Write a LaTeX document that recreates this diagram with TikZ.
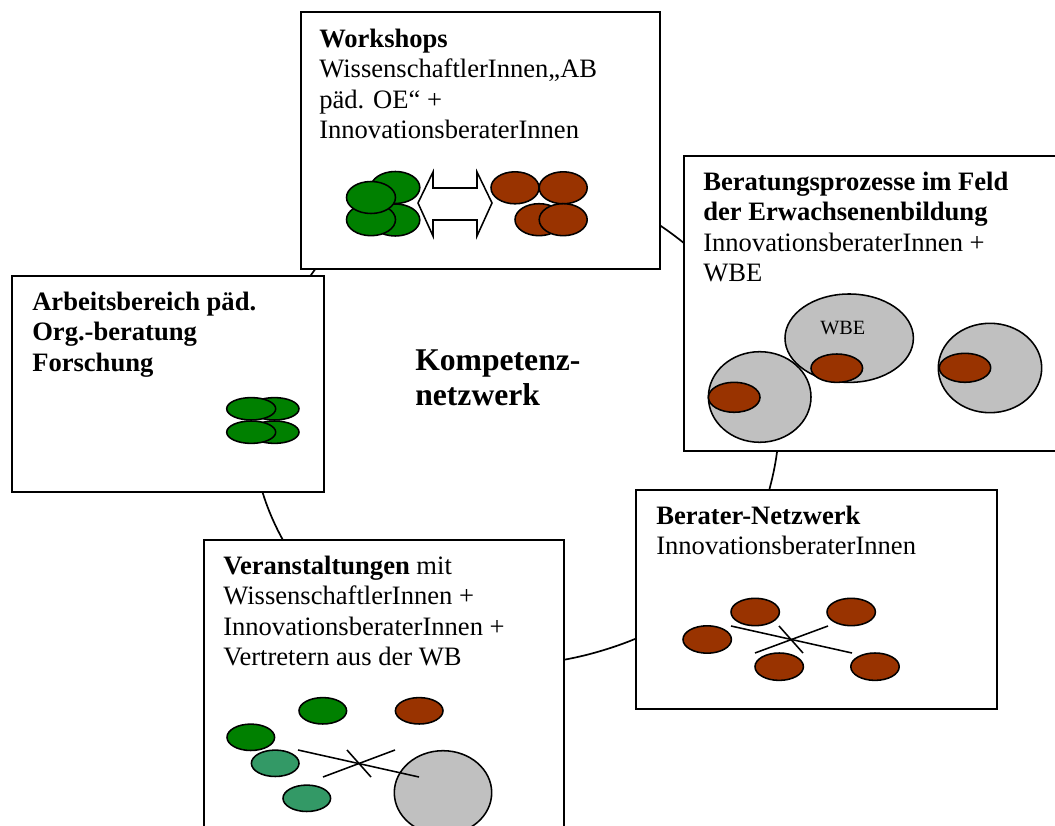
\documentclass[tikz,border=0pt]{standalone}
\usepackage{fontspec}
\setmainfont{Liberation Serif}
\usetikzlibrary{positioning,calc}
\definecolor{gruen}{RGB}{0,128,0}
\definecolor{hellgruen}{RGB}{51,153,102}
\definecolor{braun}{RGB}{153,51,0}
\definecolor{grau}{RGB}{192,192,192}
\tikzset{
	box/.style={draw, line width=1.3pt, fill=white, inner sep=0pt, anchor=north west},
	txt/.style={anchor=north west, inner sep=0pt, align=left, font=\fontsize{18.9}{21.7}\selectfont},
	blob/.style={draw, line width=1.1pt},
	netz/.style={line width=1.1pt},
}

\begin{document}
\begin{tikzpicture}[x=0.025cm, y=-0.025cm]
	\useasboundingbox (0,0) rectangle (1055,826);
	\clip (0,0) rectangle (1055,826);

	\coordinate (ka) at (313.5,271.5);
	\coordinate (kb) at (671.5,233.5);
	\coordinate (kc) at (774,470);
	\coordinate (kd) at (599,651.5);
	\coordinate (ke) at (271,515.5);
	\draw[line width=1.2pt] (ka) .. controls (394.5,158.5) and (559.5,150.5) .. (kb)
		.. controls (751.5,292.5) and (794,372) .. (kc)
		.. controls (754,568) and (695,623.5) .. (kd)
		.. controls (464.6,690.7) and (325.6,644.3) .. (ke)
		.. controls (234,428) and (258.4,348.5) .. (ka);

	\node[name=ws, box, minimum width=8.975cm, minimum height=6.425cm] at (300,11) {};
	\node[name=bp, box, minimum width=9.5cm, minimum height=7.375cm] at (683,155) {};
	\node[name=ab, box, minimum width=7.8cm, minimum height=5.4cm] at (11,275) {};
	\node[name=bn, box, minimum width=9.025cm, minimum height=5.475cm] at (635,489) {};
	\node[name=va, box, minimum width=9cm, minimum height=7.5cm] at (203,539) {};

	\node[name=wst, txt] at (319,25.6) {\strut\textbf{Workshops}\\WissenschaftlerInnen„AB\\päd. OE“ +\\InnovationsberaterInnen};
	\node[name=bpt, txt] at (703,168.6) {\strut\textbf{Beratungsprozesse im Feld}\\\textbf{der Erwachsenenbildung}\\InnovationsberaterInnen +\\WBE};
	\node[name=abt, txt, font=\bfseries\fontsize{18.9}{21.7}\selectfont] at (32,288.6) {\strut Arbeitsbereich päd.\\Org.-beratung\\Forschung};
	\node[name=bnt, txt] at (656,502.6) {\strut\textbf{Berater-Netzwerk}\\InnovationsberaterInnen};
	\node[name=vat, txt] at (223,552.6) {\strut\textbf{Veranstaltungen} mit\\WissenschaftlerInnen +\\InnovationsberaterInnen +\\Vertretern aus der WB};
	\node[name=kn, txt, font=\bfseries\fontsize{22.5}{24.9}\selectfont] at (415,345.5) {\strut Kompetenz-\\netzwerk};

	\draw[blob, fill=gruen] (395.3,187.5) ellipse [x radius=24.5, y radius=16];
	\draw[blob, fill=gruen] (395.3,220) ellipse [x radius=24.5, y radius=16];
	\draw[blob, fill=gruen] (371,219.7) ellipse [x radius=24.5, y radius=16];
	\draw[blob, fill=gruen] (371,197.5) ellipse [x radius=24.5, y radius=16];
	\draw[blob, fill=white] (418,203) -- (433,172) -- (433,188) -- (477,188) -- (477,172) -- (492,203)
		-- (477,236) -- (477,220) -- (433,220) -- (433,236) -- cycle;
	\draw[blob, fill=braun] (515,187.8) ellipse [x radius=24, y radius=16];
	\draw[blob, fill=braun] (563.2,187.8) ellipse [x radius=24, y radius=16];
	\draw[blob, fill=braun] (539,219.7) ellipse [x radius=24, y radius=16];
	\draw[blob, fill=braun] (563.2,219.7) ellipse [x radius=24, y radius=16];

	\draw[blob, fill=gruen] (274.5,408.8) ellipse [x radius=24.5, y radius=11.2];
	\draw[blob, fill=gruen] (274.5,432.2) ellipse [x radius=24.5, y radius=11.2];
	\draw[blob, fill=gruen] (251.2,408.8) ellipse [x radius=24.5, y radius=11.2];
	\draw[blob, fill=gruen] (251.2,432.2) ellipse [x radius=24.5, y radius=11.2];

	\draw[blob, fill=grau] (849.2,338.2) ellipse [x radius=64.2, y radius=44.2];
	\node[name=wbe, anchor=base west, inner sep=0pt, font=\fontsize{14.4}{17}\selectfont] at (820,335) {WBE};
	\draw[blob, fill=grau] (759.7,397) ellipse [x radius=51.3, y radius=45.3];
	\draw[blob, fill=braun] (836.8,368.2) ellipse [x radius=25.8, y radius=14.2];
	\draw[blob, fill=braun] (734.2,397.3) ellipse [x radius=25.8, y radius=15];
	\draw[blob, fill=grau] (990,368) ellipse [x radius=51.7, y radius=44.7];
	\draw[blob, fill=braun] (965,367.8) ellipse [x radius=25.7, y radius=14.5];

	\foreach \x/\y in {755.2/612, 851.2/612, 707.2/639.5, 779.2/666.7, 875/666.7}
		\draw[blob, fill=braun] (\x,\y) ellipse [x radius=24.2, y radius=13.7];
	\draw[netz] (731,626) -- (852,653);
	\draw[netz] (755,653) -- (828,626);
	\draw[netz] (779,626) -- (803,653);

	\draw[blob, fill=gruen] (322.8,710.8) ellipse [x radius=23.8, y radius=13.2];
	\draw[blob, fill=gruen] (250.8,737.3) ellipse [x radius=23.8, y radius=13.2];
	\draw[blob, fill=braun] (419.2,710.8) ellipse [x radius=23.8, y radius=13.2];
	\draw[blob, fill=hellgruen] (275.2,763.3) ellipse [x radius=23.8, y radius=13.2];
	\draw[blob, fill=hellgruen] (306.8,798.3) ellipse [x radius=23.8, y radius=13.2];
	\draw[blob, fill=grau] (443,792.7) ellipse [x radius=48.7, y radius=42];
	\draw[netz] (298,750) -- (419,777);
	\draw[netz] (323,777) -- (395,750);
	\draw[netz] (347,750) -- (371,777);
\end{tikzpicture}
\end{document}
